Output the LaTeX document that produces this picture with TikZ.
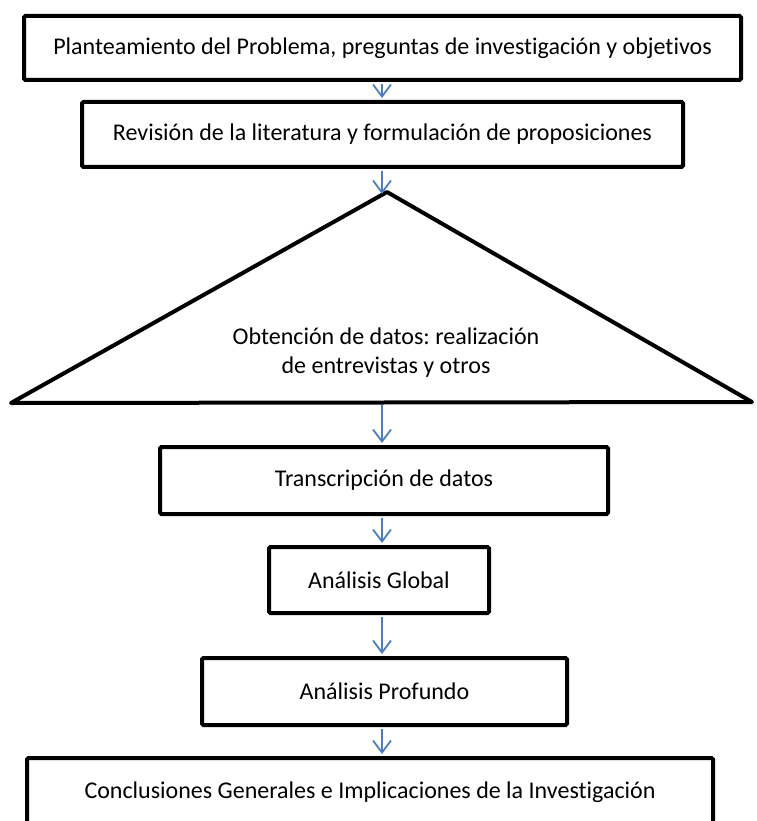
\documentclass[tikz,border=0pt]{standalone}
\usepackage{fontspec}
\setmainfont{Carlito}[Ligatures=NoCommon]
\usetikzlibrary{arrows.meta}
\definecolor{arrowblue}{HTML}{4A7EBB}
\frenchspacing
\begin{document}
\begin{tikzpicture}[x=1pt,y=-1pt,
  box/.style={draw=black, line width=4pt, rounded corners=1.5pt, inner sep=0pt,
    font=\fontsize{24}{29}\selectfont},
  conn/.style={draw=arrowblue, line width=1.8pt,
    -{Straight Barb[length=12pt,width=18pt]}, shorten <=2pt, shorten >=2pt},
  lbl/.style={font=\fontsize{24}{29}\selectfont, align=center, inner sep=0pt}]
\useasboundingbox[fill=white] (0,0) rectangle (756,821);
\coordinate (axis) at (382,0);

\node[box, minimum width=717pt, minimum height=64pt] (b1) at (382.5,48)
  {Planteamiento del Problema, preguntas de investigación y objetivos};
\node[box, minimum width=601pt, minimum height=65pt] (b2) at (382.5,134.5)
  {Revisión de la literatura y formulación de proposiciones};

\coordinate (tapex) at (387,192);
\coordinate (tleft) at (11,403);
\coordinate (tright) at (752,402);
\draw[line width=4pt, line join=round] (tapex) -- (tleft) -- (tright) -- cycle;
\node[lbl] (t) at (386,353) {Obtención de datos: realización\\de entrevistas y otros};
\coordinate (tin) at (382,194);
\coordinate (tout) at (382,403);

\node[box, minimum width=448pt, minimum height=67pt] (b3) at (384,480.5)
  {Transcripción de datos};
\node[box, minimum width=220pt, minimum height=66pt] (b4) at (379,580)
  {Análisis Global};
\node[box, minimum width=365pt, minimum height=67pt] (b5) at (384.5,691.5)
  {Análisis Profundo};
\node[box, minimum width=686pt, minimum height=68pt] (b6) at (370,792)
  {Conclusiones Generales e Implicaciones de la Investigación};

\draw[conn] (b1.south -| axis) -- (b2.north -| axis);
\draw[conn, shorten >=0pt] (b2.south -| axis) -- (tin);
\draw[conn] (tout) -- (b3.north -| axis);
\draw[conn] (b3.south -| axis) -- (b4.north -| axis);
\draw[conn] (b4.south -| axis) -- (b5.north -| axis);
\draw[conn] (b5.south -| axis) -- (b6.north -| axis);
\end{tikzpicture}
\end{document}
